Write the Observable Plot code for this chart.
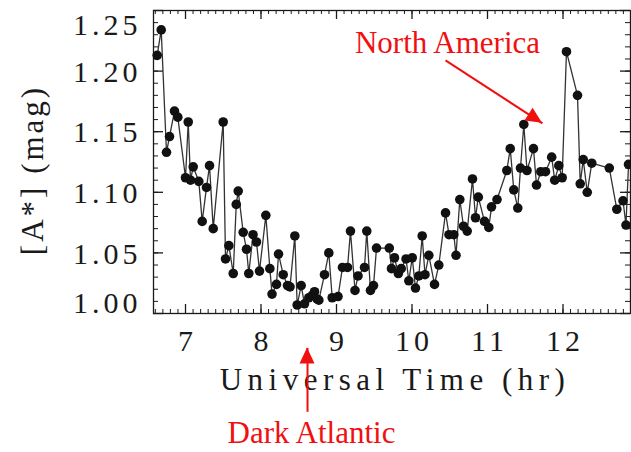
<!DOCTYPE html>
<html><head><meta charset="utf-8">
<script src="https://cdn.jsdelivr.net/npm/d3@7"></script>
<script src="https://cdn.jsdelivr.net/npm/@observablehq/plot@0.6"></script>
<style>html,body{margin:0;padding:0;background:#fff;overflow:hidden}</style>
</head><body><div id="chart"></div>
<script>
// Universal Time (hr)
const time = [6.625,6.678,6.748,6.788,6.854,6.898,7.000,7.036,7.066,7.102,
7.176,7.221,7.278,7.318,7.367,7.499,7.530,7.574,7.632,7.672,
7.698,7.764,7.808,7.838,7.894,7.940,7.980,8.064,8.117,8.146,
8.205,8.232,8.294,8.351,8.384,8.448,8.479,8.532,8.576,8.633,
8.678,8.709,8.742,8.766,8.841,8.898,8.943,9.020,9.079,9.146,
9.185,9.245,9.285,9.371,9.401,9.450,9.490,9.530,9.699,9.728,
9.768,9.819,9.857,9.921,9.958,10.003,10.046,10.090,10.135,10.172,
10.223,10.298,10.355,10.444,10.490,10.554,10.583,10.633,10.682,10.731,
10.801,10.841,10.878,10.960,11.017,11.053,11.126,11.256,11.301,11.348,
11.401,11.437,11.481,11.523,11.609,11.649,11.706,11.768,11.850,11.890,
11.944,11.989,12.046,12.192,12.228,12.268,12.321,12.381,12.613,12.713,
12.795,12.834,12.868];
// [A*] (mag)
const extinction = [1.213,1.234,1.133,1.146,1.167,1.162,1.112,1.158,1.110,1.121,
1.109,1.076,1.104,1.122,1.070,1.158,1.045,1.056,1.033,1.090,
1.101,1.067,1.053,1.033,1.065,1.059,1.035,1.081,1.037,1.016,
1.024,1.049,1.032,1.023,1.022,1.064,1.007,1.023,1.008,1.013,
1.015,1.018,1.012,1.011,1.032,1.050,1.013,1.014,1.038,1.038,
1.068,1.019,1.031,1.038,1.068,1.019,1.023,1.054,1.054,1.037,
1.046,1.033,1.037,1.045,1.027,1.046,1.021,1.031,1.064,1.032,
1.048,1.024,1.040,1.083,1.065,1.065,1.048,1.094,1.072,1.068,
1.111,1.079,1.096,1.076,1.071,1.088,1.094,1.118,1.136,1.102,
1.087,1.120,1.156,1.118,1.136,1.106,1.117,1.117,1.129,1.110,
1.122,1.112,1.216,1.180,1.107,1.127,1.100,1.124,1.120,1.086,
1.093,1.073,1.123];

const xTicks = [7, 8, 9, 10, 11, 12];
const yTicks = [1.00, 1.05, 1.10, 1.15, 1.20, 1.25];
const xTitle = "Universal Time (hr)";
const yTitle = "[A*] (mag)";

// annotations (data units)
const noteText = ["North America", "Dark Atlantic"];
const noteX = [10.47, 8.669];
const noteY = [1.2228, 0.9016];
const arrowFromX = [10.444, 8.616];
const arrowFromY = [1.2088, 0.9189];
const arrowToX = [11.728, 8.616];
const arrowToY = [1.1569, 0.9716];

const W = 631, H = 452, mL = 153, mR = 1, mT = 10, mB = 139;
const fh = H - mT - mB, fw = W - mL - mR;
const xDomain = [6.576, 12.894], yDomain = [1.0, 1.25];

const points = time.map((t, i) => ({t, a: extinction[i]}));
const notes = noteText.map((s, i) => ({s, x: noteX[i], y: noteY[i]}));
const arrows = arrowFromX.map((_, i) => ({x1: arrowFromX[i], y1: arrowFromY[i], x2: arrowToX[i], y2: arrowToY[i]}));
const xMinor = d3.range(66, 129).map(d => d / 10);
const yMinor = d3.range(100, 126).map(d => d / 100);
const ink = "#1a1a1a";
const red = "#f01010";

const chart = Plot.plot({
  width: W, height: H,
  marginLeft: mL, marginRight: mR, marginTop: mT, marginBottom: mB,
  x: {domain: xDomain, axis: null},
  y: {domain: yDomain, axis: null},
  style: {fontFamily: "Liberation Serif", background: "white", color: ink},
  marks: [
    Plot.frame({stroke: ink, strokeWidth: 1.3}),
    Plot.tickX(xMinor, {x: d => d, insetTop: fh - 4, stroke: ink}),
    Plot.tickX(xMinor, {x: d => d, insetBottom: fh - 4, stroke: ink}),
    Plot.tickX(xTicks, {x: d => d, insetTop: fh - 9, stroke: ink, strokeWidth: 1.3}),
    Plot.tickX(xTicks, {x: d => d, insetBottom: fh - 9, stroke: ink, strokeWidth: 1.3}),
    Plot.tickY(yMinor, {y: d => d, insetRight: fw - 5, stroke: ink}),
    Plot.tickY(yMinor, {y: d => d, insetLeft: fw - 5, stroke: ink}),
    Plot.tickY(yTicks, {y: d => d, insetRight: fw - 10, stroke: ink, strokeWidth: 1.3}),
    Plot.tickY(yTicks, {y: d => d, insetLeft: fw - 10, stroke: ink, strokeWidth: 1.3}),
    Plot.line(points, {x: "t", y: "a", stroke: "#333", strokeWidth: 1.3}),
    Plot.dot(points, {x: "t", y: "a", r: 4.8, fill: "#111", stroke: null}),
    // tick labels
    Plot.text(xTicks, {x: d => d, text: d => String(d), frameAnchor: "bottom", dy: 37, dx: 2, fontSize: 30, fill: ink}),
    Plot.text(yTicks.filter(d => d > 1.001 && d < 1.249), {y: d => d, text: d => d.toFixed(2), frameAnchor: "left", textAnchor: "end", dx: -12, dy: 1, fontSize: 30, fill: ink}),
    Plot.text(yTicks.filter(d => d >= 1.249), {y: d => d, text: d => d.toFixed(2), frameAnchor: "left", textAnchor: "end", dx: -12, dy: 15, fontSize: 30, fill: ink}),
    Plot.text(yTicks.filter(d => d <= 1.001), {y: d => d, text: d => d.toFixed(2), frameAnchor: "left", textAnchor: "end", dx: -12, dy: -10, fontSize: 30, fill: ink}),
    // axis titles
    Plot.text([xTitle], {text: d => d, frameAnchor: "bottom", dy: 76, dx: 3, fontSize: 31, fill: ink}),
    Plot.text([yTitle], {text: d => d, frameAnchor: "left", textAnchor: "middle", dx: -120, dy: 8, rotate: -90, fontSize: 31, fill: ink}),
    // annotations
    Plot.link(arrows, {x1: "x1", y1: "y1", x2: "x2", y2: "y2", stroke: red, strokeWidth: 2}),
    Plot.text(notes, {x: "x", y: "y", text: "s", fontSize: 31, fill: red})
  ]
});

const svg = d3.select(chart);
const tickStrings = new Set([...xTicks.map(String), ...yTicks.map(d => d.toFixed(2))]);
svg.selectAll("text").each(function() {
  const s = this.textContent;
  if (tickStrings.has(s)) this.setAttribute("letter-spacing", "4px");
  else if (s === xTitle) this.setAttribute("letter-spacing", "5.5px");
  else if (s === yTitle) this.setAttribute("letter-spacing", "3px");
});

// filled arrowheads at arrow tips
const xs = d3.scaleLinear(xDomain, [mL, W - mR]);
const ys = d3.scaleLinear(yDomain, [H - mB, mT]);
arrows.forEach(a => {
  const tx = xs(a.x2), ty = ys(a.y2), fx = xs(a.x1), fy = ys(a.y1);
  const len = Math.hypot(tx - fx, ty - fy);
  const ux = (tx - fx) / len, uy = (ty - fy) / len;
  const L = 16, hw = 7.5;
  const bx = tx - ux * L, by = ty - uy * L;
  const pts = [[tx, ty], [bx - uy * hw, by + ux * hw], [bx + uy * hw, by - ux * hw]];
  svg.append("polygon").attr("points", pts.map(p => p.join(",")).join(" ")).attr("fill", red);
});

document.getElementById("chart").appendChild(chart);
</script>
</body></html>
